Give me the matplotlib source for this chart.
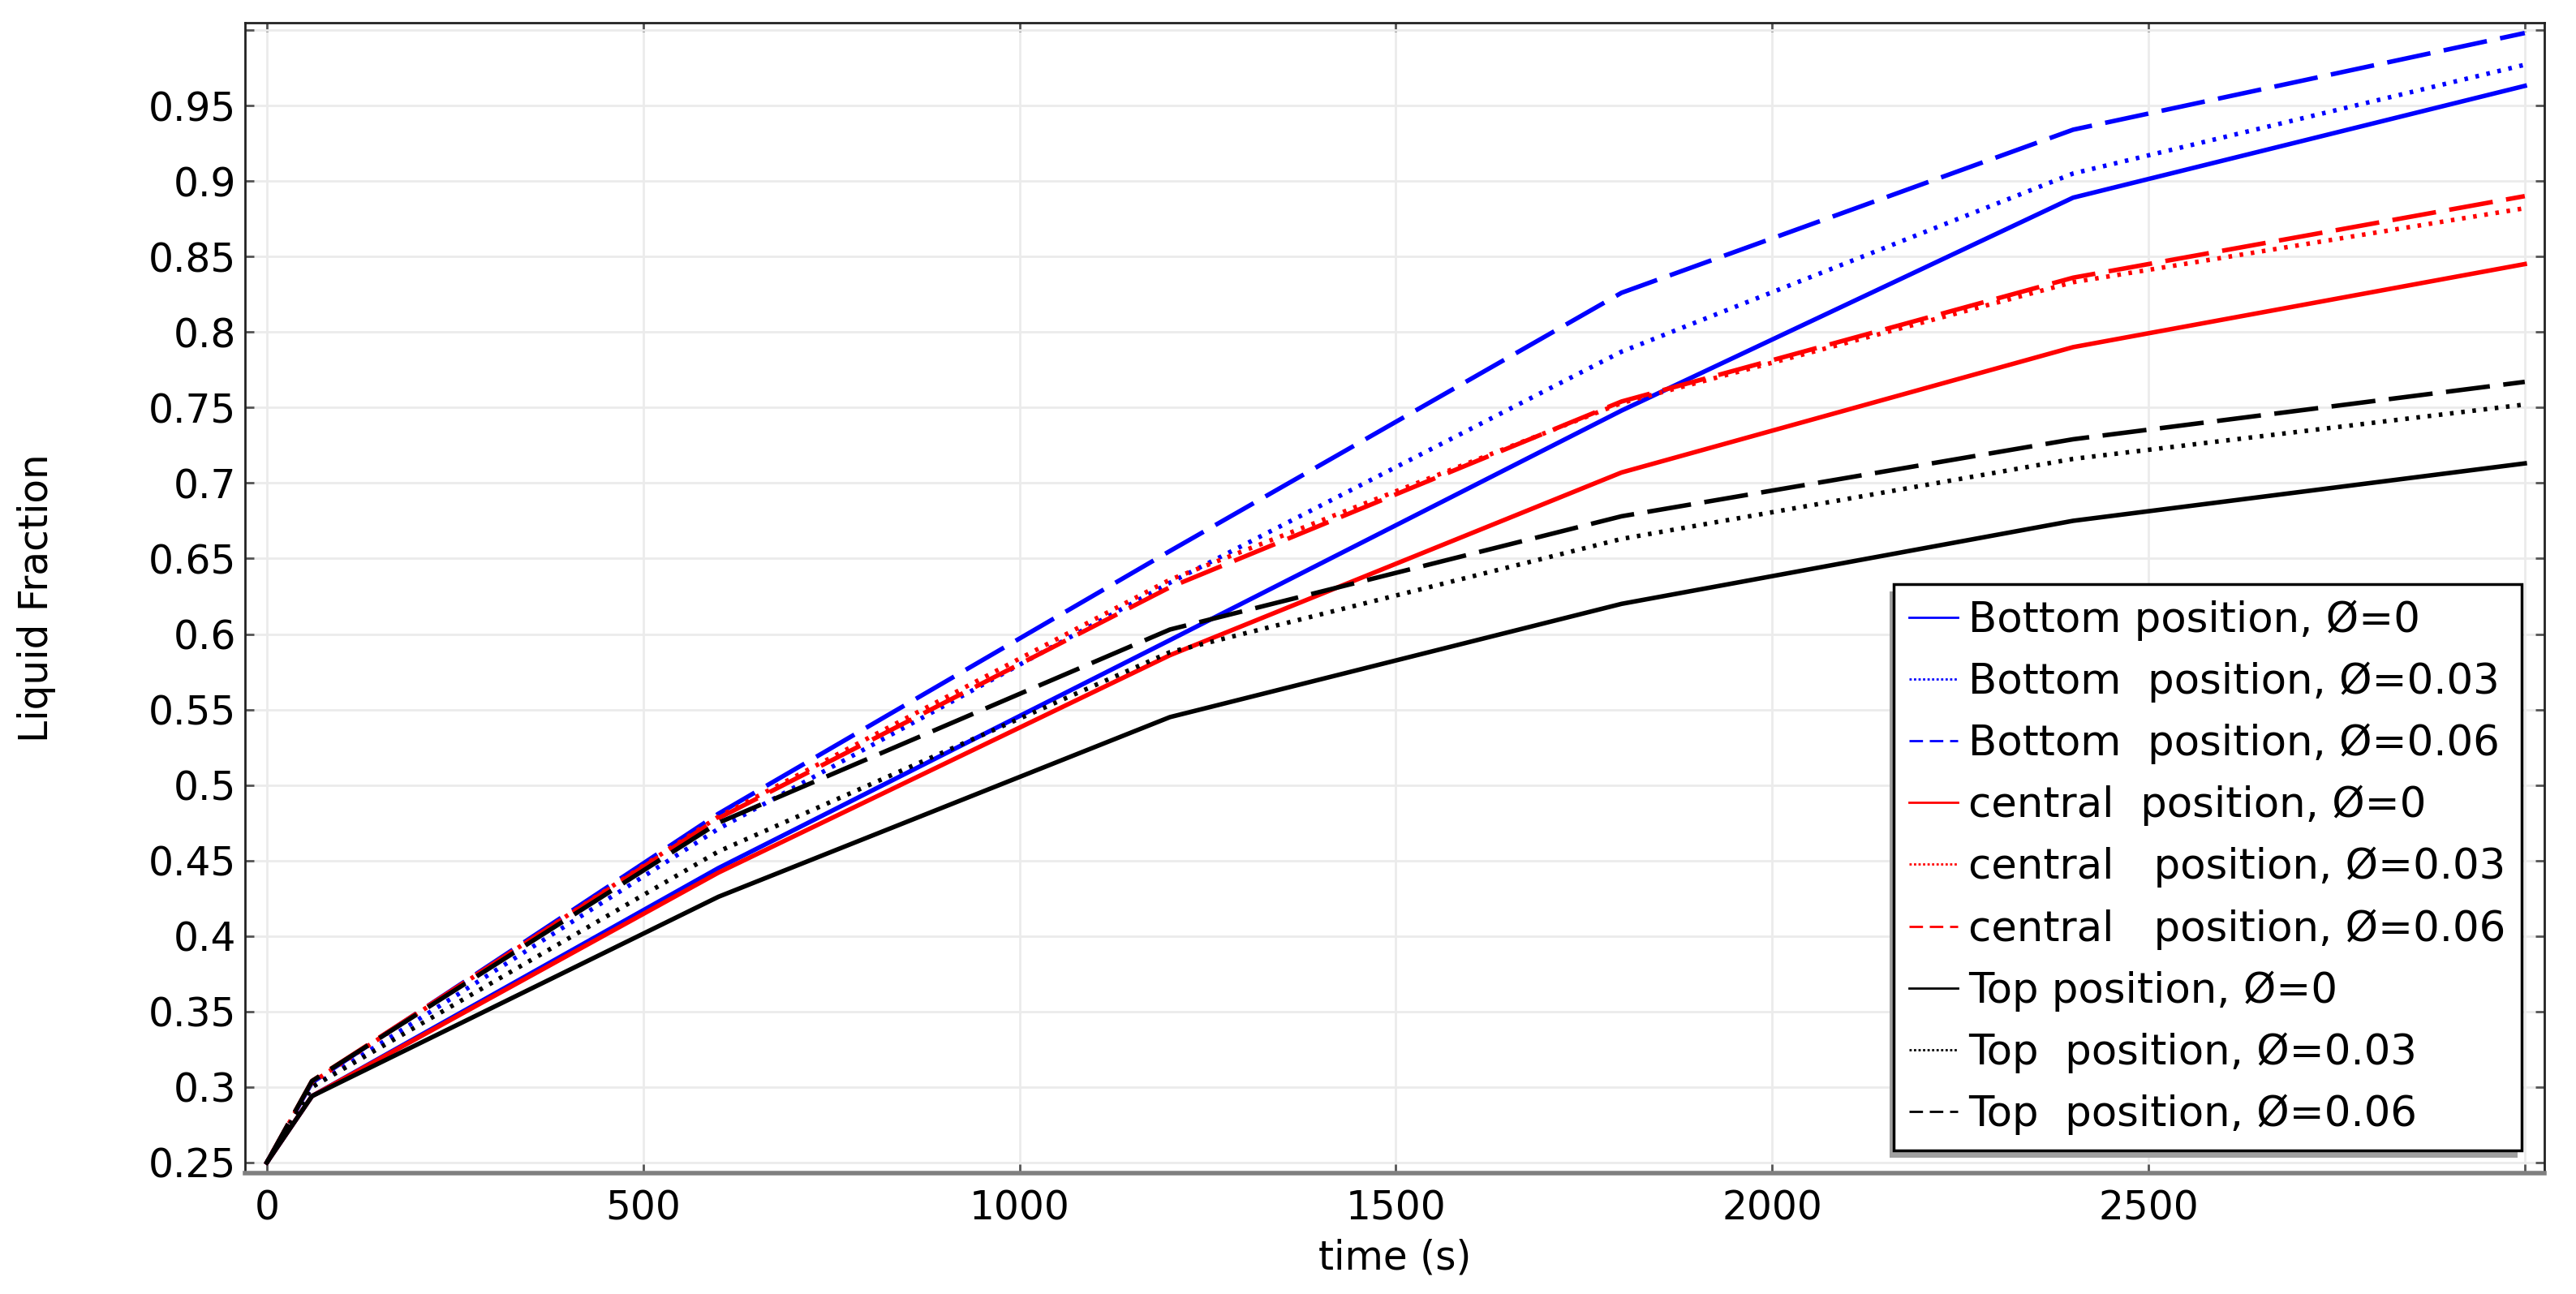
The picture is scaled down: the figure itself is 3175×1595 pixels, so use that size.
import matplotlib
matplotlib.use("Agg")
import matplotlib.pyplot as plt
from matplotlib.patches import Rectangle
import numpy as np

# time points (s)
t = [0, 60, 600, 1200, 1800, 2400, 3000]

# liquid fraction
bottom_0 = [0.25, 0.294, 0.445, 0.596, 0.748, 0.889, 0.963]
bottom_3 = [0.25, 0.300, 0.471, 0.634, 0.787, 0.905, 0.977]
bottom_6 = [0.25, 0.303, 0.481, 0.655, 0.826, 0.934, 0.998]
central_0 = [0.25, 0.294, 0.442, 0.586, 0.707, 0.790, 0.845]
central_3 = [0.25, 0.303, 0.479, 0.636, 0.753, 0.833, 0.882]
central_6 = [0.25, 0.304, 0.478, 0.631, 0.754, 0.836, 0.890]
top_0 = [0.25, 0.294, 0.426, 0.545, 0.620, 0.675, 0.713]
top_3 = [0.25, 0.300, 0.456, 0.588, 0.663, 0.716, 0.752]
top_6 = [0.25, 0.304, 0.475, 0.603, 0.678, 0.729, 0.767]

series = [bottom_0, bottom_3, bottom_6, central_0, central_3, central_6, top_0, top_3, top_6]
labels = ["Bottom position, Ø=0", "Bottom  position, Ø=0.03", "Bottom  position, Ø=0.06",
          "central  position, Ø=0", "central   position, Ø=0.03", "central   position, Ø=0.06",
          "Top position, Ø=0", "Top  position, Ø=0.03", "Top  position, Ø=0.06"]
colors = ["blue"] * 3 + ["red"] * 3 + ["black"] * 3
styles = ["solid", "dotted", "dashed"] * 3

yticks = np.round(np.arange(0.25, 1.0001, 0.05), 2)
xticks = np.arange(0, 3001, 500)

plt.rcParams["font.family"] = "DejaVu Sans"
fig = plt.figure(figsize=(31.75, 15.95), dpi=100)
ax = fig.add_axes([0.0951, 0.0934, 0.8926, 0.889])

lw = 4.0
dash_map = {"solid": "-", "dotted": (0, (0.8, 1.7)), "dashed": (0, (9.8, 3.0))}
for y, lab, c, s in zip(series, labels, colors, styles):
    ax.plot(t, y, color=c, lw=lw, linestyle=dash_map[s], label=lab)

ax.set_xlim(-29, 3026)
ax.set_ylim(0.243, 1.0048)
ax.set_xticks(xticks)
ax.set_xticklabels([str(v) if v < 3000 else "" for v in xticks])
ax.set_yticks(yticks)
ax.set_yticklabels([("%g" % v) if v < 1.0 else "" for v in yticks])
ax.grid(True, color="#ebebeb", lw=2)
ax.set_axisbelow(True)
ax.tick_params(direction="in", length=8, width=2, color="#555555", labelsize=35,
               top=True, right=True)
ax.tick_params(axis="x", pad=14)
ax.tick_params(axis="y", pad=8)

for side in ["left", "top", "right"]:
    ax.spines[side].set_color("#222222")
    ax.spines[side].set_linewidth(2)
ax.spines["bottom"].set_color("#808080")
ax.spines["bottom"].set_linewidth(4)

ax.set_xlabel("time (s)", fontsize=35, va="center")
ax.xaxis.set_label_coords(0.5, -0.074)
ax.set_ylabel("Liquid Fraction", fontsize=35, va="center")
ax.yaxis.set_label_coords(-0.0907, 0.5)

leg = ax.legend(loc="lower right", bbox_to_anchor=(0.990, 0.0197), fontsize=37,
                frameon=True, fancybox=False, edgecolor="black", framealpha=1,
                borderpad=0.37, handlelength=1.17, handletextpad=0.25, labelspacing=0.5,
                borderaxespad=0)
leg.get_frame().set_linewidth(2.5)
for line, s in zip(leg.get_lines(), styles):
    line.set_linewidth(2)
    if s == "dotted":
        line.set_linestyle((0, (1, 1)))
    elif s == "dashed":
        line.set_linestyle((0, (6, 3)))

# gray drop shadow under the legend box (offset left/down)
fig.canvas.draw()
bb = leg.get_window_extent().transformed(fig.transFigure.inverted())
dx, dy = -5 / 3175, -9 / 1595
ax.add_patch(Rectangle((bb.x0 + dx, bb.y0 + dy), bb.width, bb.height,
                       transform=fig.transFigure, facecolor="#a0a0a0",
                       edgecolor="none", zorder=4.9, clip_on=False))

fig.savefig("out.png", dpi=100)
